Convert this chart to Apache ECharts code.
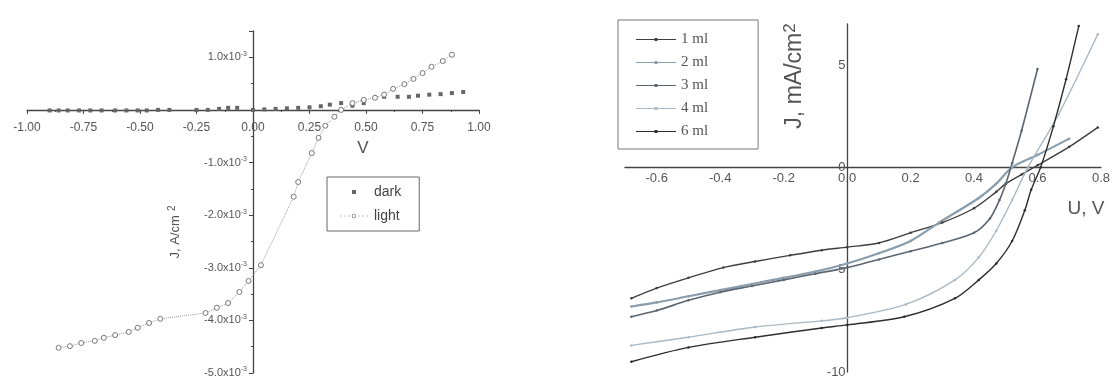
<!DOCTYPE html>
<html>
<head>
<meta charset="utf-8">
<script src="https://cdn.jsdelivr.net/npm/echarts@6/dist/echarts.min.js"></script>
<style>
html,body{margin:0;padding:0;background:#fff;}
#c{width:1113px;height:379px;}
</style>
</head>
<body>
<div id="c"></div>
<script>
// ---------- Left chart: J (x10^-3 A/cm^2) vs V ----------
const darkV = [-0.90,-0.86,-0.82,-0.77,-0.72,-0.67,-0.61,-0.56,-0.51,-0.47,-0.42,-0.37,-0.25,-0.20,-0.15,-0.11,-0.07,0.00,0.05,0.10,0.15,0.20,0.25,0.30,0.34,0.39,0.44,0.49,0.54,0.58,0.64,0.69,0.73,0.78,0.83,0.88,0.93];
const darkJ = [-0.01,-0.01,-0.01,-0.01,-0.01,-0.01,-0.01,-0.01,-0.01,-0.01,0.00,0.00,0.00,0.00,0.02,0.04,0.04,0.00,0.01,0.02,0.03,0.04,0.05,0.07,0.10,0.13,0.08,0.13,0.23,0.25,0.25,0.25,0.27,0.29,0.30,0.32,0.34];
const lightV = [-0.86,-0.81,-0.76,-0.70,-0.66,-0.61,-0.55,-0.51,-0.46,-0.41,-0.21,-0.16,-0.11,-0.06,-0.02,0.035,0.18,0.20,0.26,0.29,0.32,0.36,0.39,0.44,0.49,0.54,0.58,0.62,0.67,0.71,0.75,0.79,0.84,0.88];
const lightJ = [-4.52,-4.49,-4.43,-4.39,-4.33,-4.28,-4.22,-4.14,-4.05,-3.97,-3.86,-3.76,-3.67,-3.46,-3.25,-2.95,-1.65,-1.37,-0.82,-0.53,-0.30,-0.13,0.00,0.13,0.19,0.23,0.29,0.40,0.49,0.59,0.70,0.82,0.93,1.05];
const leftXTicks = {min:-1, max:1, step:0.25};
const leftYTicks = {min:-5, max:1.5, step:1};

// ---------- Right chart: J (mA/cm^2) vs U (V) ----------
const seriesNames = ['1 ml','2 ml','3 ml','4 ml','6 ml'];
const u1 = [-0.68,-0.60,-0.50,-0.39,-0.29,-0.18,-0.08,0.00,0.10,0.20,0.30,0.40,0.47,0.50,0.55,0.60,0.70,0.79];
const j1 = [-6.4,-5.9,-5.4,-4.9,-4.6,-4.3,-4.05,-3.9,-3.7,-3.2,-2.7,-2.0,-1.2,-0.8,-0.35,0.1,1.0,1.95];
const u2 = [-0.68,-0.60,-0.50,-0.40,-0.30,-0.20,-0.10,0.00,0.10,0.20,0.29,0.415,0.47,0.52,0.60,0.70];
const j2 = [-6.8,-6.6,-6.3,-6.0,-5.7,-5.4,-5.1,-4.7,-4.2,-3.6,-2.7,-1.5,-0.8,0.0,0.6,1.4];
const u3 = [-0.68,-0.60,-0.50,-0.40,-0.30,-0.20,-0.10,0.00,0.10,0.20,0.30,0.40,0.45,0.48,0.50,0.52,0.55,0.60];
const j3 = [-7.3,-7.0,-6.5,-6.1,-5.8,-5.5,-5.2,-4.9,-4.5,-4.1,-3.7,-3.2,-2.5,-1.6,-0.8,0.2,1.8,4.8];
const u4 = [-0.68,-0.50,-0.29,-0.08,0.00,0.185,0.34,0.415,0.47,0.52,0.57,0.667,0.79];
const j4 = [-8.7,-8.3,-7.8,-7.5,-7.35,-6.7,-5.5,-4.4,-3.1,-1.6,0.0,2.6,6.5];
const u6 = [-0.68,-0.50,-0.29,-0.08,0.00,0.18,0.34,0.415,0.47,0.52,0.56,0.58,0.61,0.65,0.69,0.73];
const j6 = [-9.5,-8.8,-8.3,-7.85,-7.7,-7.3,-6.4,-5.5,-4.7,-3.6,-2.1,-1.1,0.0,2.0,4.3,6.9];
const rightU = [u1,u2,u3,u4,u6];
const rightJ = [j1,j2,j3,j4,j6];
const rightColors = ['#3e3e3e','#8a9dac','#5c6670','#a9b8c3','#2e2e2e'];
const rightWidths = [1.4,2.2,1.6,1.4,1.4];

function zip(a,b){return a.map((v,i)=>[v,b[i]]);}

const chart = echarts.init(document.getElementById('c'), null, {renderer:'canvas'});
const axisCol = '#444';
const labelCol = '#555';

// grid geometry (px)
const G0 = {left:27, width:452, top:31, height:342};
const G1 = {left:625, width:477, top:24, height:348};
// offsets to place the axes through zero
const x0Off = -(G0.height * (0 - leftYTicks.min) / (leftYTicks.max - leftYTicks.min));
const y0Off = -(G0.width * (0 - leftXTicks.min) / (leftXTicks.max - leftXTicks.min));
const x1Off = -(G1.height * (0 - (-10)) / (7 - (-10)));
const y1Off = -(G1.width * (0 - (-0.7)) / (0.8 - (-0.7)));

const lineIcon = 'path://M0,4.6 L40,4.6 L40,5.4 L0,5.4 Z M18.5,3.5 L21.5,3.5 L21.5,6.5 L18.5,6.5 Z';
// small square centred in a 30x10 box (corner dots fix the box size)
const darkIcon = 'path://M0,0 L0.01,0 L0.01,0.01 Z M30,10 L29.99,10 L29.99,9.99 Z M13,3 L17,3 L17,7 L13,7 Z';
// dotted line with a small open circle
const lightIcon = 'path://M0,0 L0.01,0 L0.01,0.01 Z M30,10 L29.99,10 L29.99,9.99 Z M1,4.7 L3,4.7 L3,5.3 L1,5.3 Z M5,4.7 L7,4.7 L7,5.3 L5,5.3 Z M9,4.7 L11,4.7 L11,5.3 L9,5.3 Z M19,4.7 L21,4.7 L21,5.3 L19,5.3 Z M23,4.7 L25,4.7 L25,5.3 L23,5.3 Z M27,4.7 L29,4.7 L29,5.3 L27,5.3 Z M15,2.8 A2.2,2.2 0 1 1 14.99,2.8 Z M15,3.6 A1.4,1.4 0 1 0 15.01,3.6 Z';

const option = {
  animation:false,
  backgroundColor:'#fff',
  textStyle:{fontFamily:'Liberation Sans, Arial, sans-serif'},
  grid:[G0, G1],
  xAxis:[
    {gridIndex:0, type:'value', min:leftXTicks.min, max:leftXTicks.max, interval:leftXTicks.step,
     position:'bottom', offset:x0Off,
     axisLine:{onZero:false, lineStyle:{color:axisCol, width:1.3}},
     axisTick:{show:true, length:4, lineStyle:{color:axisCol}},
     minorTick:{show:true, splitNumber:2, length:2, lineStyle:{color:axisCol}},
     splitLine:{show:false},
     axisLabel:{color:labelCol, fontSize:12, margin:12, formatter:v=>v.toFixed(2)}},
    {gridIndex:1, type:'value', min:-0.7, max:0.8, interval:0.1,
     position:'bottom', offset:x1Off,
     axisLine:{onZero:false, lineStyle:{color:axisCol, width:1.3}},
     axisTick:{show:false},
     splitLine:{show:false},
     axisLabel:{color:labelCol, fontSize:13, margin:5, showMinLabel:false,
       formatter:v=>{const r=Math.round(v*10); return (r%2===0)? (r/10).toFixed(1):'';}}}
  ],
  yAxis:[
    {gridIndex:0, type:'value', min:leftYTicks.min, max:leftYTicks.max, interval:leftYTicks.step,
     position:'left', offset:y0Off,
     axisLine:{onZero:false, lineStyle:{color:axisCol, width:1.3}},
     axisTick:{show:true, length:4, lineStyle:{color:axisCol}},
     minorTick:{show:true, splitNumber:2, length:2, lineStyle:{color:axisCol}},
     splitLine:{show:false},
     axisLabel:{showMaxLabel:false, margin:6,
       formatter:v=>{ if(Math.abs(v)<1e-9) return ''; return '{m|'+v.toFixed(1)+'x10}{s|-3}'; },
       rich:{m:{color:labelCol, fontSize:11, lineHeight:14}, s:{color:labelCol, fontSize:7, verticalAlign:'top', lineHeight:14}}}},
    {gridIndex:1, type:'value', min:-10, max:7, interval:5,
     position:'left', offset:y1Off,
     axisLine:{onZero:false, lineStyle:{color:axisCol, width:1.3}},
     axisTick:{show:false},
     splitLine:{show:false},
     axisLabel:{showMaxLabel:false, color:labelCol, fontSize:13, margin:2,
       formatter:v=>String(v)}}
  ],
  legend:[
    {left:327, top:177, orient:'vertical', padding:[8,18,8,12], itemGap:10, itemWidth:30, itemHeight:10,
     borderColor:'#666', borderWidth:1, backgroundColor:'#fff',
     textStyle:{color:'#444', fontSize:14},
     data:[{name:'dark', icon:darkIcon, itemStyle:{color:'#666', borderWidth:0}},
           {name:'light', icon:lightIcon, itemStyle:{color:'#888', borderWidth:0}}]},
    {left:618, top:20, orient:'vertical', padding:[12,50,10,18], itemGap:8, itemWidth:40, itemHeight:10,
     borderColor:'#777', borderWidth:1, backgroundColor:'#fff',
     textStyle:{color:'#555', fontSize:15, fontFamily:'Liberation Serif, Times New Roman, serif'},
     data:seriesNames.map(n=>({name:n, icon:lineIcon}))}
  ],
  graphic:[
    {type:'text', x:363, y:148, style:{text:'V', fill:'#555', fontSize:17, align:'center', verticalAlign:'middle', fontFamily:'Liberation Sans, Arial, sans-serif'}},
    {type:'text', x:175, y:232, rotation:Math.PI/2,
     style:{text:'{a|J, A/cm}{b|2}', align:'center', verticalAlign:'middle',
       rich:{a:{fill:'#555', fontSize:13, lineHeight:16, fontFamily:'Liberation Sans, Arial, sans-serif'}, b:{fill:'#555', fontSize:10, verticalAlign:'top', lineHeight:16, padding:[0,0,0,4]}}}},
    {type:'text', x:795, y:76, rotation:Math.PI/2,
     style:{text:'{a|J, mA/cm}{b|2}', align:'center', verticalAlign:'middle',
       rich:{a:{fill:'#555', fontSize:23, lineHeight:26, fontFamily:'Liberation Sans, Arial, sans-serif'}, b:{fill:'#555', fontSize:17, verticalAlign:'top', lineHeight:26}}}},
    {type:'text', x:1086, y:209, style:{text:'U, V', fill:'#555', fontSize:19, align:'center', verticalAlign:'middle', fontFamily:'Liberation Sans, Arial, sans-serif'}}
  ],
  series:[
    {name:'dark', type:'line', xAxisIndex:0, yAxisIndex:0, data:zip(darkV,darkJ),
     symbol:'rect', symbolSize:4, showAllSymbol:true,
     itemStyle:{color:'#666'}, lineStyle:{opacity:0}},
    {name:'light', type:'line', xAxisIndex:0, yAxisIndex:0, data:zip(lightV,lightJ),
     symbol:'circle', symbolSize:5, showAllSymbol:true,
     itemStyle:{color:'#fff', borderColor:'#777', borderWidth:1},
     lineStyle:{color:'#999', width:1, type:'dotted'}},
    ...seriesNames.map((n,i)=>({
      name:n, type:'line', xAxisIndex:1, yAxisIndex:1, data:zip(rightU[i],rightJ[i]),
      smooth:0.3, symbol:'circle', symbolSize:2.5, showAllSymbol:true,
      itemStyle:{color:rightColors[i]},
      lineStyle:{color:rightColors[i], width:rightWidths[i]}
    }))
  ]
};
chart.setOption(option);
</script>
</body>
</html>
